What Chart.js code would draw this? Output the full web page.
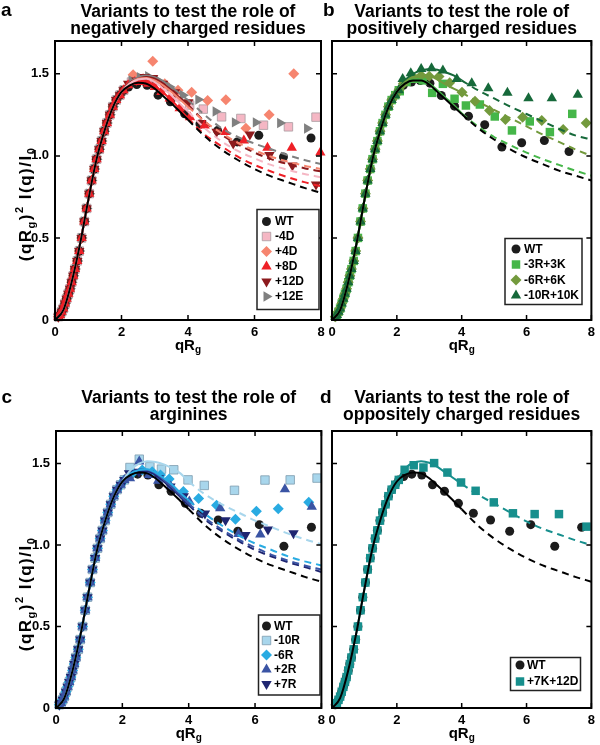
<!DOCTYPE html>
<html>
<head>
<meta charset="utf-8">
<title>Kratky plots of charge variants</title>
<script src="https://cdn.jsdelivr.net/npm/chart.js@4"></script>
<style>
  html, body { margin: 0; padding: 0; background: #fff; }
  body { width: 600px; height: 745px; position: relative; overflow: hidden; }
  canvas { position: absolute; }
</style>
</head>
<body>
<canvas id="chartA" width="330" height="360" style="left:0;top:0"></canvas>
<canvas id="chartB" width="300" height="360" style="left:300px;top:0"></canvas>
<canvas id="chartC" width="330" height="356" style="left:0;top:389px"></canvas>
<canvas id="chartD" width="300" height="356" style="left:300px;top:389px"></canvas>
<script>
// Kratky plots, (qRg)^2 I(q)/I0 vs qRg

const FONT = '"Liberation Sans", Arial, Helvetica, sans-serif';

// dense low-q markers, the same for every variant
const riseQ = [0.1, 0.15, 0.2, 0.25, 0.3, 0.35, 0.4, 0.45, 0.5, 0.55, 0.6, 0.67, 0.73, 0.8, 0.88, 0.95, 1.03, 1.1, 1.18, 1.25, 1.33, 1.4, 1.48, 1.56, 1.65, 1.74, 1.84, 1.95, 2.06];
const riseK = [0.02, 0.03, 0.05, 0.07, 0.1, 0.13, 0.16, 0.19, 0.23, 0.27, 0.31, 0.36, 0.42, 0.5, 0.6, 0.68, 0.77, 0.85, 0.92, 0.98, 1.04, 1.09, 1.15, 1.2, 1.25, 1.3, 1.34, 1.37, 1.4];

// markers above qRg = 2
const wtQ = [2.21, 2.46, 2.77, 3.1, 3.47, 3.9, 4.36, 4.89, 5.48, 6.13, 6.87, 7.7];
const wtK = [1.42, 1.435, 1.43, 1.37, 1.33, 1.256, 1.195, 1.154, 1.085, 1.125, 0.993, 1.109];

const m4dQ = [2.3, 2.6, 2.95, 3.3, 3.7, 4.05, 4.46, 5.01, 5.59, 6.27, 7.02, 7.85];
const m4dK = [1.45, 1.47, 1.46, 1.42, 1.36, 1.31, 1.285, 1.238, 1.228, 1.187, 1.177, 1.236];
const p4dQ = [2.35, 2.65, 2.94, 3.3, 3.7, 4.11, 4.59, 5.14, 5.74, 6.44, 7.18];
const p4dK = [1.495, 1.47, 1.576, 1.44, 1.4, 1.388, 1.337, 1.342, 1.169, 1.25, 1.5];
const p8dQ = [2.2, 2.4, 2.6, 2.8, 3.0, 3.2, 3.45, 3.75, 4.06, 4.5, 5.12, 5.68, 6.39, 7.12, 7.98];
const p8dK = [1.43, 1.45, 1.45, 1.44, 1.42, 1.39, 1.35, 1.29, 1.236, 1.185, 1.145, 1.094, 1.05, 1.05, 1.02];
const p12dQ = [2.2, 2.45, 2.7, 2.95, 3.25, 3.61, 4.01, 4.4, 4.86, 5.36, 5.86, 6.45, 7.14, 7.85];
const p12dK = [1.44, 1.46, 1.48, 1.475, 1.44, 1.388, 1.327, 1.2, 1.147, 1.076, 1.13, 1.005, 0.942, 0.825];
const p12eQ = [2.3, 2.55, 2.8, 3.1, 3.45, 3.85, 4.31, 4.83, 5.41, 6.04, 6.77, 7.58];
const p12eK = [1.46, 1.48, 1.485, 1.46, 1.42, 1.37, 1.343, 1.27, 1.204, 1.204, 1.2, 1.167];

const wtbQ = [2.2, 2.45, 2.72, 3.02, 3.37, 3.78, 4.21, 4.71, 5.24, 5.85, 6.55, 7.31];
const wtbK = [1.43, 1.45, 1.459, 1.443, 1.368, 1.303, 1.242, 1.19, 1.054, 1.08, 1.094, 1.027];
const r3Q = [2.09, 2.3, 2.55, 2.8, 3.09, 3.42, 3.78, 4.13, 4.56, 5.02, 5.55, 6.1, 6.72, 7.41];
const r3K = [1.394, 1.45, 1.47, 1.46, 1.384, 1.439, 1.348, 1.307, 1.313, 1.24, 1.155, 1.21, 1.145, 1.256];
const r6Q = [2.2, 2.5, 2.75, 3.0, 3.3, 3.63, 4.01, 4.41, 4.86, 5.35, 5.88, 6.47, 7.13, 7.84];
const r6K = [1.44, 1.48, 1.49, 1.485, 1.483, 1.445, 1.388, 1.333, 1.277, 1.222, 1.236, 1.216, 1.161, 1.2];
const r10Q = [2.18, 2.43, 2.75, 3.07, 3.42, 3.85, 4.31, 4.82, 5.41, 6.06, 6.78, 7.58];
const r10K = [1.469, 1.503, 1.53, 1.534, 1.52, 1.469, 1.443, 1.412, 1.384, 1.351, 1.351, 1.372];

const m10rQ = [2.23, 2.51, 2.83, 3.18, 3.55, 3.98, 4.47, 5.38, 6.3, 7.06, 7.87];
const m10rK = [1.476, 1.527, 1.48, 1.466, 1.462, 1.4, 1.366, 1.336, 1.399, 1.4, 1.411];
const m6rQ = [2.3, 2.6, 2.9, 3.15, 3.41, 3.84, 4.3, 4.84, 5.41, 6.04, 6.7, 7.62];
const m6rK = [1.44, 1.46, 1.45, 1.43, 1.405, 1.329, 1.286, 1.244, 1.159, 1.208, 1.223, 1.262];
const p2rQ = [2.23, 2.51, 2.8, 3.08, 3.46, 4.02, 4.95, 5.5, 6.16, 6.9, 7.71];
const p2rK = [1.41, 1.513, 1.43, 1.394, 1.36, 1.268, 1.226, 1.068, 1.065, 1.343, 1.235];
const p7rQ = [2.2, 2.5, 2.8, 3.1, 3.45, 3.85, 4.49, 5.11, 5.71, 6.39, 7.16];
const p7rK = [1.44, 1.45, 1.44, 1.41, 1.36, 1.3, 1.193, 1.152, 1.061, 1.096, 1.073];

const k7d12Q = [2.24, 2.52, 2.82, 3.15, 3.56, 3.98, 4.43, 4.99, 5.58, 6.25, 7.0, 7.85];
const k7d12K = [1.462, 1.49, 1.476, 1.503, 1.445, 1.384, 1.333, 1.262, 1.195, 1.19, 1.19, 1.113];

// fitted curves, sampled on one grid (solid below qRg = 4, dashed above)
const fitQ = [0, 0.25, 0.5, 0.75, 1, 1.25, 1.5, 1.75, 2, 2.25, 2.5, 2.75, 3, 3.25, 3.5, 3.75, 4, 4.5, 5, 5.5, 6, 6.5, 7, 7.5, 8];
const fitLow = [0, 0.06, 0.23, 0.46, 0.73, 0.98, 1.16, 1.3, 1.39];
const fitWT = [...fitLow, 1.43, 1.445, 1.44, 1.41, 1.365, 1.32, 1.27, 1.22, 1.12, 1.04, 0.975, 0.92, 0.875, 0.84, 0.805, 0.775];
const fitM4D = [...fitLow, 1.44, 1.465, 1.47, 1.45, 1.41, 1.37, 1.32, 1.27, 1.17, 1.09, 1.03, 0.985, 0.945, 0.915, 0.89, 0.87];
const fitP4D = [...fitLow, 1.44, 1.47, 1.475, 1.46, 1.43, 1.39, 1.345, 1.3, 1.21, 1.14, 1.08, 1.035, 0.995, 0.965, 0.94, 0.92];
const fitP8D = [...fitLow, 1.44, 1.46, 1.455, 1.43, 1.385, 1.34, 1.285, 1.23, 1.13, 1.06, 0.995, 0.945, 0.905, 0.87, 0.84, 0.815];
const fitP12D = [...fitLow, 1.445, 1.47, 1.48, 1.47, 1.44, 1.4, 1.355, 1.31, 1.21, 1.13, 1.07, 1.02, 0.98, 0.95, 0.925, 0.905];
const fitP12E = [...fitLow, 1.45, 1.48, 1.49, 1.48, 1.455, 1.42, 1.38, 1.34, 1.25, 1.17, 1.115, 1.075, 1.04, 1.005, 0.975, 0.95];
const fitWTb = [...fitLow, 1.44, 1.46, 1.46, 1.435, 1.39, 1.345, 1.3, 1.255, 1.17, 1.1, 1.04, 0.99, 0.95, 0.91, 0.88, 0.85];
const fitR3 = [...fitLow, 1.44, 1.465, 1.465, 1.44, 1.4, 1.355, 1.31, 1.26, 1.18, 1.115, 1.065, 1.02, 0.98, 0.945, 0.91, 0.88];
const fitR6 = [...fitLow, 1.45, 1.48, 1.495, 1.49, 1.465, 1.435, 1.41, 1.385, 1.33, 1.28, 1.23, 1.18, 1.13, 1.085, 1.04, 1.0];
const fitR10 = [...fitLow, 1.46, 1.5, 1.52, 1.53, 1.525, 1.51, 1.49, 1.46, 1.4, 1.35, 1.3, 1.255, 1.21, 1.165, 1.125, 1.1];
const fitM10R = [...fitLow, 1.46, 1.5, 1.515, 1.51, 1.495, 1.47, 1.44, 1.39, 1.31, 1.25, 1.2, 1.15, 1.11, 1.07, 1.035, 1.005];
const fitM6R = [...fitLow, 1.44, 1.46, 1.465, 1.445, 1.41, 1.37, 1.32, 1.275, 1.19, 1.12, 1.06, 1.01, 0.97, 0.93, 0.9, 0.875];
const fitP2R = [...fitLow, 1.44, 1.46, 1.46, 1.44, 1.4, 1.355, 1.305, 1.255, 1.165, 1.095, 1.035, 0.985, 0.94, 0.905, 0.875, 0.85];
const fitP7R = [...fitLow, 1.44, 1.455, 1.455, 1.43, 1.39, 1.345, 1.295, 1.245, 1.155, 1.085, 1.025, 0.97, 0.93, 0.895, 0.865, 0.835];
const fitK7D12 = [...fitLow, 1.47, 1.505, 1.515, 1.505, 1.48, 1.445, 1.41, 1.375, 1.31, 1.255, 1.2, 1.145, 1.1, 1.065, 1.03, 1.0];

const toPts = (q, k) => q.map((x, i) => ({ x: x, y: k[i] }));
const withRise = (q, k) => toPts(riseQ.concat(q), riseK.concat(k));

// draw a string made of normal / sub / superscript pieces, centred on x
function richText(ctx, parts, x, y, gap) {
	gap = gap || 0;
	let w = 0;
	parts.forEach(p => {
		ctx.font = p.f;
		p.w = 0;
		for (const ch of p.t) p.w += ctx.measureText(ch).width + gap;
		w += p.w;
	});
	let cx = x - w / 2;
	parts.forEach(p => {
		ctx.font = p.f;
		for (const ch of p.t) {
			ctx.fillText(ch, cx, y + (p.dy || 0));
			cx += ctx.measureText(ch).width + gap;
		}
	});
}

function drawMarker(ctx, ds, x, y) {
	ctx.fillStyle = ds.pointBackgroundColor;
	ctx.strokeStyle = ds.pointBorderColor;
	ctx.lineWidth = ds.pointBorderWidth;
	Chart.helpers.drawPoint(ctx, {
		pointStyle: ds.pointStyle, rotation: ds.pointRotation,
		radius: ds.pointRadius, borderWidth: ds.pointBorderWidth
	}, x, y);
}

const panelPlugin = {
	id: 'panel',
	afterDatasetsDraw(chart, args, o) {
		const ctx = chart.ctx, a = chart.chartArea;
		const xs = chart.scales.x, ys = chart.scales.y;
		ctx.save();
		// inward ticks on all four sides
		ctx.strokeStyle = '#000';
		ctx.lineWidth = 1.5;
		ctx.beginPath();
		xs.ticks.forEach(t => {
			const px = xs.getPixelForValue(t.value);
			ctx.moveTo(px, a.bottom); ctx.lineTo(px, a.bottom - 5);
			ctx.moveTo(px, a.top); ctx.lineTo(px, a.top + 5);
		});
		ys.ticks.forEach(t => {
			const py = ys.getPixelForValue(t.value);
			ctx.moveTo(a.left, py); ctx.lineTo(a.left + 5, py);
			ctx.moveTo(a.right, py); ctx.lineTo(a.right - 5, py);
		});
		ctx.stroke();
		ctx.lineWidth = 2;
		ctx.strokeRect(a.left, a.top, a.right - a.left, a.bottom - a.top);

		// legend box
		const L = o.legend;
		ctx.fillStyle = '#fff';
		ctx.fillRect(L.x, L.y, L.w, L.h);
		ctx.lineWidth = 1.5;
		ctx.strokeStyle = '#222';
		ctx.strokeRect(L.x, L.y, L.w, L.h);
		const marks = chart.data.datasets.filter(d => d.legendLabel);
		marks.forEach((ds, i) => {
			drawMarker(ctx, ds, L.mx, L.ys[i]);
			ctx.fillStyle = '#000';
			ctx.font = 'bold 12px ' + FONT;
			ctx.textAlign = 'left';
			ctx.textBaseline = 'middle';
			ctx.fillText(ds.legendLabel, L.tx, L.ys[i] + 0.5);
		});
		ctx.restore();
	},
	afterDraw(chart, args, o) {
		const ctx = chart.ctx, a = chart.chartArea;
		const cx = (a.left + a.right) / 2;
		ctx.save();
		ctx.fillStyle = '#000';
		ctx.textBaseline = 'alphabetic';
		// panel letter
		ctx.textAlign = 'left';
		ctx.font = 'bold 19px ' + FONT;
		ctx.fillText(o.letter, o.letterX, o.letterY);
		// two-line title
		ctx.textAlign = 'center';
		ctx.font = 'bold 17.5px ' + FONT;
		ctx.fillText(o.title[0], cx, o.titleY[0]);
		ctx.fillText(o.title[1], cx, o.titleY[1]);
		// x axis label qR_g
		ctx.textAlign = 'left';
		const big = 'bold 15px ' + FONT, small = 'bold 10px ' + FONT;
		richText(ctx, [{ t: 'qR', f: big }, { t: 'g', f: small, dy: 3 }], cx, a.bottom + 30);
		// y axis label (qR_g)^2 I(q)/I_0
		if (o.yLabel) {
			const yb = 'bold 17px ' + FONT, ys = 'bold 11px ' + FONT;
			ctx.translate(31, a.top + 163);
			ctx.rotate(-Math.PI / 2);
			richText(ctx, [
				{ t: '(qR', f: yb }, { t: 'g', f: ys, dy: 4 }, { t: ')', f: yb },
				{ t: '2', f: ys, dy: -8 }, { t: ' I(q)/I', f: yb }, { t: '0', f: ys, dy: 4 }
			], 0, 0, 1.5);
		}
		ctx.restore();
	}
};

function fitSet(k, color, order) {
	return {
		data: toPts(fitQ, k), showLine: true, borderColor: color, borderWidth: 2,
		pointRadius: 0, cubicInterpolationMode: 'monotone', order: order,
		segment: { borderDash: c => (c.p0.parsed.x >= 3.99 ? [7, 5] : undefined) }
	};
}

function markSet(label, pts, fill, edge, shape, rot, r, order) {
	return {
		legendLabel: label, data: pts, showLine: false, clip: false, order: order,
		pointStyle: shape, pointRotation: rot, pointRadius: r,
		pointBackgroundColor: fill, pointBorderColor: edge || fill,
		pointBorderWidth: edge ? 0.8 : 0
	};
}

function makePanel(id, p) {
	const tickFont = { family: FONT, size: 13, weight: 'bold' };
	new Chart(document.getElementById(id), {
		type: 'scatter',
		data: { datasets: p.datasets },
		options: {
			responsive: false,
			animation: false,
			events: [],
			layout: { padding: { left: 0, top: p.padTop, right: p.padRight, bottom: 0 } },
			plugins: {
				legend: { display: false },
				tooltip: { enabled: false },
				panel: p.deco
			},
			scales: {
				x: {
					type: 'linear', min: 0, max: 8,
					border: { display: false },
					grid: { display: false, drawTicks: false },
					ticks: { stepSize: 2, color: '#000', font: tickFont, padding: 5, maxRotation: 0 },
					afterFit: s => { s.height = p.xAxisH; }
				},
				y: {
					type: 'linear', min: 0, max: 1.7,
					border: { display: false },
					grid: { display: false, drawTicks: false },
					ticks: { display: p.yTicks, stepSize: 0.5, includeBounds: false, color: '#000', font: tickFont, padding: 6 },
					afterFit: s => { s.width = p.yAxisW; }
				}
			}
		},
		plugins: [panelPlugin]
	});
}

const BLACK = '#1c1c1c';
const TRI = 6;

// a - negatively charged residues
makePanel('chartA', {
	padTop: 41, padRight: 9, xAxisH: 40, yAxisW: 55, yTicks: true,
	deco: {
		letter: 'a', letterX: 1, letterY: 15.5,
		title: ['Variants to test the role of', 'negatively charged residues'], titleY: [16.5, 33.5],
		yLabel: true,
		legend: { x: 257, y: 209.5, w: 62, h: 100, mx: 266.5, tx: 275, ys: [221.5, 236.5, 251.5, 266.5, 281.5, 296.5] }
	},
	datasets: [
		fitSet(fitWT, '#000', 0),
		fitSet(fitM4D, '#f5b7c4', 1),
		fitSet(fitP4D, '#f6856f', 2),
		fitSet(fitP8D, '#ee2027', 3),
		fitSet(fitP12D, '#8c1a1d', 4),
		fitSet(fitP12E, '#808080', 5),
		markSet('WT', withRise(wtQ, wtK), BLACK, null, 'circle', 0, 4.5, 12),
		markSet('-4D', withRise(m4dQ, m4dK), '#f5b7c4', '#a89aa0', 'rect', 0, 6, 15),
		markSet('+4D', withRise(p4dQ, p4dK), '#f6856f', null, 'rectRot', 0, 5.5, 14),
		markSet('+8D', withRise(p8dQ, p8dK), '#ee2027', null, 'triangle', 0, TRI, 10),
		markSet('+12D', withRise(p12dQ, p12dK), '#8c1a1d', null, 'triangle', 180, TRI, 11),
		markSet('+12E', withRise(p12eQ, p12eK), '#808080', null, 'triangle', 90, TRI, 13)
	]
});

// b - positively charged residues
makePanel('chartB', {
	padTop: 41, padRight: 5, xAxisH: 40, yAxisW: 32, yTicks: false,
	deco: {
		letter: 'b', letterX: 23, letterY: 16,
		title: ['Variants to test the role of', 'positively charged residues'], titleY: [16.5, 33.5],
		yLabel: false,
		legend: { x: 205, y: 238.5, w: 77, h: 66, mx: 216, tx: 224, ys: [249, 264.5, 280, 295.5] }
	},
	datasets: [
		fitSet(fitWTb, '#000', 0),
		fitSet(fitR3, '#45b649', 1),
		fitSet(fitR6, '#739a3d', 2),
		fitSet(fitR10, '#16693a', 3),
		markSet('WT', withRise(wtbQ, wtbK), BLACK, null, 'circle', 0, 4.5, 13),
		markSet('-3R+3K', withRise(r3Q, r3K), '#45b649', null, 'rect', 0, 6, 12),
		markSet('-6R+6K', withRise(r6Q, r6K), '#739a3d', null, 'rectRot', 0, 5.5, 11),
		markSet('-10R+10K', withRise(r10Q, r10K), '#16693a', null, 'triangle', 0, TRI, 10)
	]
});

// c - arginines
makePanel('chartC', {
	padTop: 42, padRight: 8, xAxisH: 37, yAxisW: 56, yTicks: true,
	deco: {
		letter: 'c', letterX: 1.5, letterY: 14,
		title: ['Variants to test the role of', 'arginines'], titleY: [14, 31],
		yLabel: true,
		legend: { x: 258.5, y: 226, w: 61.5, h: 80, mx: 266.5, tx: 274, ys: [237, 251.5, 266, 280.5, 295] }
	},
	datasets: [
		fitSet(fitWT, '#000', 0),
		fitSet(fitM10R, '#a8d6ec', 1),
		fitSet(fitM6R, '#29abe2', 2),
		fitSet(fitP2R, '#3a54a4', 3),
		fitSet(fitP7R, '#1f2671', 4),
		markSet('WT', withRise(wtQ, wtK), BLACK, null, 'circle', 0, 4.5, 14),
		markSet('-10R', withRise(m10rQ, m10rK), '#a8d6ec', '#7e9cae', 'rect', 0, 6, 13),
		markSet('-6R', withRise(m6rQ, m6rK), '#29abe2', null, 'rectRot', 0, 5.5, 12),
		markSet('+2R', withRise(p2rQ, p2rK), '#3a54a4', null, 'triangle', 0, TRI, 10),
		markSet('+7R', withRise(p7rQ, p7rK), '#1f2671', null, 'triangle', 180, TRI, 11)
	]
});

// d - oppositely charged residues
makePanel('chartD', {
	padTop: 42, padRight: 5, xAxisH: 37, yAxisW: 32, yTicks: false,
	deco: {
		letter: 'd', letterX: 20, letterY: 14,
		title: ['Variants to test the role of', 'oppositely charged residues'], titleY: [14, 31],
		yLabel: false,
		legend: { x: 210.5, y: 268.5, w: 70, h: 33, mx: 220, tx: 227, ys: [276, 292.5] }
	},
	datasets: [
		fitSet(fitWT, '#000', 0),
		fitSet(fitK7D12, '#178f8d', 1),
		markSet('WT', withRise(wtQ, wtK), BLACK, null, 'circle', 0, 4.5, 11),
		markSet('+7K+12D', withRise(k7d12Q, k7d12K), '#178f8d', null, 'rect', 0, 6, 10)
	]
});
</script>
</body>
</html>
